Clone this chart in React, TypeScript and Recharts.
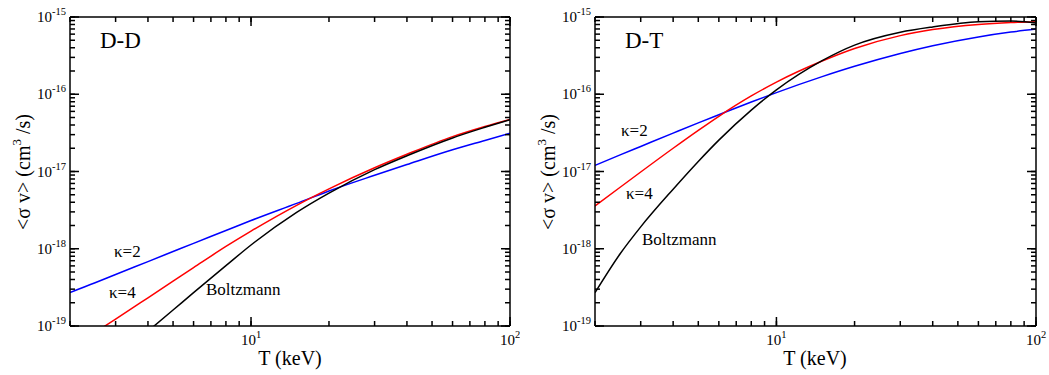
import { LineChart, Line, XAxis, YAxis } from "recharts";

// ── temperature grid (keV) ──
const temps = [2, 2.5, 3, 4, 5, 6, 8, 10, 15, 20, 30, 40, 60, 80, 100];

// ── D-D reactivity <σv> (cm^3/s) ──
const ddKappa2 = [2.72e-19, 3.63e-19, 4.65e-19, 6.82e-19, 9.2e-19, 1.175e-18, 1.72e-18, 2.32e-18, 3.87e-18, 5.6e-18, 8.93e-18, 1.23e-17, 1.91e-17, 2.52e-17, 3.12e-17];
const ddKappa4 = [5.05e-20, 8.26e-20, 1.23e-19, 2.32e-19, 3.8e-19, 5.69e-19, 1.07e-18, 1.69e-18, 3.65e-18, 5.96e-18, 1.117e-17, 1.67e-17, 2.83e-17, 3.83e-17, 4.73e-17];
const ddBoltzmann = [null, null, null, 8.57e-20, 1.61e-19, 2.7e-19, 6.04e-19, 1.119e-18, 2.96e-18, 5.26e-18, 1.057e-17, 1.6e-17, 2.72e-17, 3.73e-17, 4.69e-17];

// ── D-T reactivity <σv> (cm^3/s) ──
const dtKappa2 = [1.2e-17, 1.64e-17, 2.11e-17, 3.14e-17, 4.26e-17, 5.43e-17, 7.93e-17, 1.05e-16, 1.69e-16, 2.3e-16, 3.37e-16, 4.25e-16, 5.52e-16, 6.38e-16, 6.98e-16];
const dtKappa4 = [3.57e-18, 6.25e-18, 9.85e-18, 2.0e-17, 3.41e-17, 5.19e-17, 9.5e-17, 1.435e-16, 2.69e-16, 3.91e-16, 5.74e-16, 6.87e-16, 8.02e-16, 8.49e-16, 8.69e-16];
const dtBoltzmann = [2.7e-19, 8.61e-19, 1.92e-18, 5.9e-18, 1.35e-17, 2.55e-17, 6.24e-17, 1.14e-16, 2.72e-16, 4.32e-16, 6.34e-16, 7.43e-16, 8.67e-16, 8.87e-16, 8.39e-16];

// ── axis ticks ──
const xTicks = [2, 3, 4, 5, 6, 7, 8, 9, 10, 20, 30, 40, 50, 60, 70, 80, 90, 100];
const yDecades = [-19, -18, -17, -16, -15];
const yTicks = yDecades.flatMap((d) =>
  d === -15 ? [1e-15] : [1, 2, 3, 4, 5, 6, 7, 8, 9].map((k) => Number(`${k}e${d}`))
);

const FONT = '"Liberation Serif", "Times New Roman", serif';
const MINOR = 5;
const MAJOR = 9;
const tickLineStyle = { stroke: "#000", strokeWidth: 1.5 };
const axisLineStyle = { stroke: "#000", strokeWidth: 1.5 };

function decadeOf(v: number) {
  const l = Math.log10(v);
  return Math.abs(l - Math.round(l)) < 1e-6 ? Math.round(l) : null;
}

// default tickLine draws the short inward tick; this adds the longer decade tick + 10^n label
function makeTick(side: string, labels: boolean) {
  // eslint-disable-next-line @typescript-eslint/no-explicit-any
  return (props: any) => {
    const x = Number(props.x);
    const y = Number(props.y);
    const d = decadeOf(Number(props.payload && props.payload.value));
    if (d === null) return <g />;
    let p = "";
    if (side === "bottom") p = `M${x},${y}V${y - MAJOR}`;
    else if (side === "top") p = `M${x},${y}V${y + MAJOR}`;
    else if (side === "left") p = `M${x},${y}H${x + MAJOR}`;
    else p = `M${x},${y}H${x - MAJOR}`;
    return (
      <g>
        <path d={p} stroke="#000" strokeWidth={1.5} fill="none" />
        {labels && side === "bottom" && (
          <text x={x} y={y + 19} textAnchor="middle" fill="#000" style={{ fontFamily: FONT }}>
            <tspan fontSize={15}>10</tspan>
            <tspan fontSize={10.5} dy={-7}>{d}</tspan>
          </text>
        )}
        {labels && side === "left" && (
          <text x={x - 4} y={y + 5} textAnchor="end" fill="#000" style={{ fontFamily: FONT }}>
            <tspan fontSize={15}>10</tspan>
            <tspan fontSize={10.5} dy={-7}>{d}</tspan>
          </text>
        )}
      </g>
    );
  };
}

const tickBottom = makeTick("bottom", true);
const tickTop = makeTick("top", false);
const tickLeft = makeTick("left", true);
const tickRight = makeTick("right", false);

function Panel({
  width, marginLeft, marginRight, title, k2, k4, boltz, notes,
}: {
  width: number; marginLeft: number; marginRight: number; title: string;
  k2: (number | null)[]; k4: (number | null)[]; boltz: (number | null)[];
  notes: { k2: [number, number]; k4: [number, number]; b: [number, number] };
}) {
  const data = temps.map((t, i) => ({ t, k2: k2[i], k4: k4[i], boltz: boltz[i] }));
  const labelX = marginLeft - 40;
  const plotMidX = marginLeft + 220;
  const txt = { fontFamily: FONT };
  return (
    <LineChart
      width={width}
      height={375}
      data={data}
      margin={{ top: 16, right: marginRight - 1, bottom: 48, left: marginLeft - 1 }}
    >
      <XAxis
        dataKey="t" type="number" scale="log" domain={[2, 100]} ticks={xTicks} interval={0}
        allowDataOverflow height={1} tickSize={-MINOR} tickMargin={MINOR}
        axisLine={axisLineStyle} tickLine={tickLineStyle} tick={tickBottom}
      />
      <XAxis
        xAxisId="top" orientation="top" dataKey="t" type="number" scale="log" domain={[2, 100]} ticks={xTicks}
        interval={0} allowDataOverflow height={1} tickSize={-MINOR} tickMargin={MINOR}
        axisLine={axisLineStyle} tickLine={tickLineStyle} tick={tickTop}
      />
      <YAxis
        type="number" scale="log" domain={[1e-19, 1e-15]} ticks={yTicks} interval={0}
        allowDataOverflow width={1} tickSize={-MINOR} tickMargin={MINOR}
        axisLine={axisLineStyle} tickLine={tickLineStyle} tick={tickLeft}
      />
      <YAxis
        yAxisId="right" orientation="right" type="number" scale="log" domain={[1e-19, 1e-15]} ticks={yTicks}
        interval={0} allowDataOverflow width={1} tickSize={-MINOR} tickMargin={MINOR}
        axisLine={axisLineStyle} tickLine={tickLineStyle} tick={tickRight}
      />
      <Line type="monotone" dataKey="k2" stroke="#0000ff" strokeWidth={1.5} dot={false} isAnimationActive={false} />
      <Line type="monotone" dataKey="k4" stroke="#ff0000" strokeWidth={1.5} dot={false} isAnimationActive={false} />
      <Line type="monotone" dataKey="boltz" stroke="#000000" strokeWidth={1.5} dot={false} isAnimationActive={false} />

      <text x={marginLeft + 30} y={48} style={txt} fontSize={23} fill="#000">{title}</text>
      <text x={notes.k2[0]} y={notes.k2[1]} style={txt} fontSize={17} fill="#000">κ=2</text>
      <text x={notes.k4[0]} y={notes.k4[1]} style={txt} fontSize={17} fill="#000">κ=4</text>
      <text x={notes.b[0]} y={notes.b[1]} style={txt} fontSize={17} fill="#000">Boltzmann</text>
      <text x={plotMidX} y={365} textAnchor="middle" style={txt} fontSize={20} fill="#000">T (keV)</text>
      <text
        x={labelX} y={172} textAnchor="middle" style={txt} fontSize={20} fill="#000"
        transform={`rotate(-90 ${labelX} 172)`}
      >
        {"<σ v> (cm"}
        <tspan fontSize={13} dy={-9}>3</tspan>
        <tspan dy={9}>{" /s)"}</tspan>
      </text>
    </LineChart>
  );
}

export default function App() {
  return (
    <div style={{ position: "absolute", left: 0, top: 0, width: 1049, height: 375, background: "#fff", display: "flex" }}>
      <Panel
        width={520} marginLeft={70} marginRight={10} title="D-D"
        k2={ddKappa2} k4={ddKappa4} boltz={ddBoltzmann}
        notes={{ k2: [114, 257], k4: [109, 298], b: [206, 295] }}
      />
      <Panel
        width={529} marginLeft={75} marginRight={13} title="D-T"
        k2={dtKappa2} k4={dtKappa4} boltz={dtBoltzmann}
        notes={{ k2: [101, 136], k4: [106, 199], b: [122, 245] }}
      />
    </div>
  );
}
